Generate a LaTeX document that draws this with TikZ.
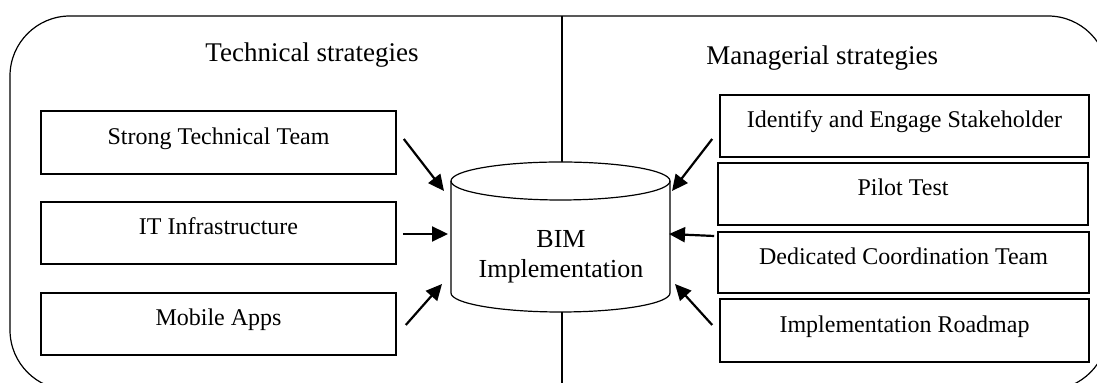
\documentclass[tikz,border=0pt]{standalone}
\usepackage{fontspec}
\setmainfont{Liberation Serif}
\usetikzlibrary{arrows.meta}
\begin{document}
\begin{tikzpicture}[x=0.5pt,y=-0.5pt,
  sbox/.style={draw,line width=0.8pt,inner sep=0pt,font=\fontsize{12}{14}\selectfont,text height=8pt,text depth=6pt},
  head/.style={font=\fontsize{13.5}{16}\selectfont,inner sep=0pt},
  arr/.style={line width=1.1pt,-{Triangle[length=8pt,width=7.5pt]}},
  thin/.style={line width=0.6pt}]
\useasboundingbox (0,0) rectangle (1097,383);
\begin{scope}
\clip (0,0) rectangle (1097,383);
\draw[thin,rounded corners=30pt] (10,16) rectangle (1108,390);
\draw[thin] (562,16) -- (562,163);
\draw[thin] (562,311) -- (562,390);
% cylinder
\fill[white] (451,181) -- (451,293) arc[start angle=180,end angle=360,x radius=54.75pt,y radius=9.5pt] -- (670,181) -- cycle;
\fill[white] (560.5,181) ellipse[x radius=54.75pt,y radius=9.5pt];
\draw[thin] (451,181) -- (451,293) arc[start angle=180,end angle=360,x radius=54.75pt,y radius=9.5pt] -- (670,181);
\draw[thin] (560.5,181) ellipse[x radius=54.75pt,y radius=9.5pt];
\end{scope}
\node[font=\fontsize{13}{15}\selectfont,align=center,inner sep=0pt] (bim) at (561,257) {BIM\\Implementation};
\node[head,anchor=base west] (tech) at (205,62) {Technical strategies};
\node[head,anchor=base west] (mgr) at (706,65) {Managerial strategies};
% left boxes
\node[sbox,minimum width=177.5pt,minimum height=31.5pt] (l1) at (218.5,142.5) {Strong Technical Team};
\node[sbox,minimum width=177.5pt,minimum height=31pt] (l2) at (218.5,233) {IT Infrastructure};
\node[sbox,minimum width=177.5pt,minimum height=31pt] (l3) at (218.5,324) {Mobile Apps};
% right boxes
\node[sbox,minimum width=184.5pt,minimum height=31pt] (r1) at (904.5,126) {Identify and Engage Stakeholder};
\node[sbox,minimum width=185pt,minimum height=31pt] (r2) at (903,194) {Pilot Test};
\node[sbox,minimum width=185.5pt,minimum height=30.5pt] (r3) at (903.5,262.5) {Dedicated Coordination Team};
\node[sbox,minimum width=184.5pt,minimum height=31.5pt] (r4) at (904.5,330.5) {Implementation Roadmap};
% arrow tips
\coordinate (tl1) at (444,191);
\coordinate (tl2) at (448,234);
\coordinate (tl3) at (442,284);
\coordinate (tr1) at (672,191);
\coordinate (tr2) at (669,234);
\coordinate (tr3) at (675,284);
\draw[arr] ([xshift=3.5pt,yshift=1.75pt]l1.east) -- (tl1);
\draw[arr] ([xshift=3pt,yshift=-0.5pt]l2.east) -- (tl2);
\draw[arr] ([xshift=4.5pt,yshift=-0.5pt]l3.east) -- (tl3);
\draw[arr] ([xshift=-3.5pt,yshift=-6.5pt]r1.west) -- (tr1);
\draw[arr] ([xshift=-1.5pt,yshift=-1pt]r3.west |- tr2) -- (tr2);
\draw[arr] ([xshift=-3.5pt,yshift=2.75pt]r4.west) -- (tr3);
\end{tikzpicture}
\end{document}
